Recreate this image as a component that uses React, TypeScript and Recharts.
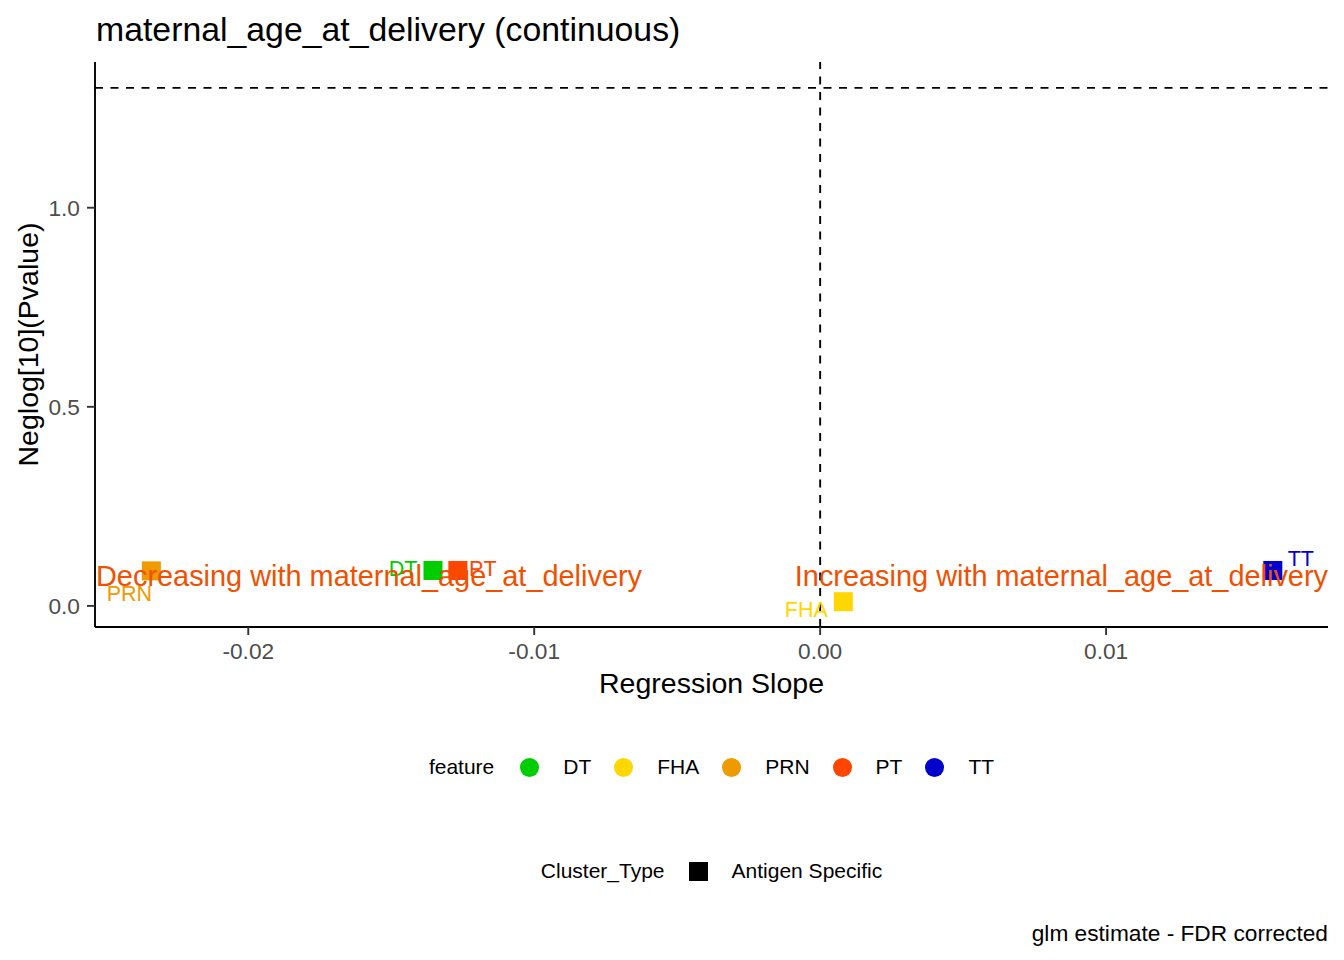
import React from 'react';
import { ScatterChart, Scatter, XAxis, YAxis, ReferenceLine } from 'recharts';

// values
const features = ['DT', 'FHA', 'PRN', 'PT', 'TT'];
const slopes = [-0.01354, 0.00081, -0.02339, -0.01267, 0.01583];
const negLog10P = [0.089, 0.0105, 0.088, 0.089, 0.089];
const featureColors = ['#00CD00', '#FFD700', '#EE9A00', '#FF4500', '#0000CD'];
const clusterTypes = ['Antigen Specific'];
const xTicks = [-0.02, -0.01, 0, 0.01];
const yTicks = [0, 0.5, 1.0];
const xDomain = [-0.02536, 0.01776];
const yDomain = [-0.053, 1.366];
const fdrCutoff = 1.301; // -log10(0.05)
const annotationY = 0.075;
const annotationTexts = ['Decreasing with maternal_age_at_delivery', 'Increasing with maternal_age_at_delivery'];

// repel-style label offsets (px) from each square's centre
const labelNudge: Record<string, [number, number]> = {
  DT: [-30, -2],
  FHA: [-37, 8],
  PRN: [-22, 22],
  PT: [25, -2],
  TT: [28, -12],
};

const FONT = '"Liberation Sans", Arial, sans-serif';
const ANNOT_COLOR = '#F05000';

const chartData = features.map((name, i) => ({
  name,
  x: slopes[i],
  y: negLog10P[i],
  color: featureColors[i],
}));

// annotations pinned to the left / right edge of the x domain (like -Inf / Inf)
const annotationData = [
  { x: xDomain[0], y: annotationY, text: annotationTexts[0], anchor: 'start' },
  { x: xDomain[1], y: annotationY, text: annotationTexts[1], anchor: 'end' },
];

const SquareMark = (props: any) => {
  const { cx, cy, payload } = props;
  if (cx == null || cy == null) return null;
  const [dx, dy] = labelNudge[payload.name] || [0, 0];
  return (
    <g>
      <rect x={cx - 9.5} y={cy - 9.5} width={19} height={19} fill={payload.color} />
      <text
        x={cx + dx}
        y={cy + dy}
        dy="0.36em"
        textAnchor="middle"
        fontSize={21.5}
        fontFamily={FONT}
        fill={payload.color}
      >
        {payload.name}
      </text>
    </g>
  );
};

const AnnotationMark = (props: any) => {
  const { cx, cy, payload } = props;
  if (cx == null || cy == null) return null;
  return (
    <text
      x={payload.anchor === 'start' ? cx + 1 : cx}
      y={cy}
      dy="0.36em"
      textAnchor={payload.anchor}
      fontSize={28.9}
      fontFamily={FONT}
      fill={ANNOT_COLOR}
    >
      {payload.text}
    </text>
  );
};

const legendRow: React.CSSProperties = {
  position: 'absolute',
  left: 95,
  width: 1233,
  height: 30,
  display: 'flex',
  alignItems: 'center',
  justifyContent: 'center',
  fontSize: 21,
  color: '#000',
  whiteSpace: 'nowrap',
};

export default function App() {
  return (
    <div style={{ position: 'relative', width: 1344, height: 960, background: '#fff', fontFamily: FONT }}>
      <style>{'body{margin:0}'}</style>
      <ScatterChart width={1344} height={960} margin={{ top: 62, right: 16, bottom: 283, left: 35 }}>
        <XAxis
          type="number"
          dataKey="x"
          domain={xDomain}
          allowDataOverflow
          ticks={xTicks}
          tickFormatter={(v: number) => v.toFixed(2)}
          tick={{ fill: '#4D4D4D', fontSize: 22.7, fontFamily: FONT }}
          tickSize={8}
          tickMargin={8}
          height={50}
          axisLine={{ stroke: '#000', strokeWidth: 1.9 }}
          tickLine={{ stroke: '#333', strokeWidth: 1.9 }}
        />
        <YAxis
          type="number"
          dataKey="y"
          domain={yDomain}
          allowDataOverflow
          ticks={yTicks}
          tickFormatter={(v: number) => v.toFixed(1)}
          tick={{ fill: '#4D4D4D', fontSize: 22.7, fontFamily: FONT }}
          tickSize={8}
          tickMargin={7}
          width={60}
          axisLine={{ stroke: '#000', strokeWidth: 1.9 }}
          tickLine={{ stroke: '#333', strokeWidth: 1.9 }}
        />
        <ReferenceLine y={fdrCutoff} stroke="#000" strokeWidth={1.9} strokeDasharray="8 7.5" />
        <ReferenceLine x={0} stroke="#000" strokeWidth={1.9} strokeDasharray="8 7.5" />
        <Scatter data={chartData} shape={SquareMark} isAnimationActive={false} />
        <Scatter data={annotationData} shape={AnnotationMark} isAnimationActive={false} />
      </ScatterChart>

      <svg width={1344} height={960} style={{ position: 'absolute', left: 0, top: 0, pointerEvents: 'none' }}>
        <text x={96} y={41} fontSize={33.8} fontFamily={FONT} fill="#000">
          maternal_age_at_delivery (continuous)
        </text>
        <text x={711.5} y={693} fontSize={28.5} fontFamily={FONT} fill="#000" textAnchor="middle">
          Regression Slope
        </text>
        <text
          transform="translate(37.5,344.5) rotate(-90)"
          fontSize={28.5}
          fontFamily={FONT}
          fill="#000"
          textAnchor="middle"
        >
          Neglog[10](Pvalue)
        </text>
        <text x={1328} y={941} fontSize={22.7} fontFamily={FONT} fill="#000" textAnchor="end">
          glm estimate - FDR corrected
        </text>
      </svg>

      <div style={{ ...legendRow, top: 752 }}>
        <span style={{ marginRight: 26 }}>feature</span>
        {features.map((f, i) => (
          <React.Fragment key={f}>
            <span
              style={{
                width: 19,
                height: 19,
                borderRadius: '50%',
                background: featureColors[i],
                marginRight: 24,
                display: 'inline-block',
              }}
            />
            <span style={{ marginRight: i < features.length - 1 ? 23 : 0 }}>{f}</span>
          </React.Fragment>
        ))}
      </div>

      <div style={{ ...legendRow, top: 856 }}>
        <span style={{ marginRight: 24 }}>Cluster_Type</span>
        {clusterTypes.map((c) => (
          <React.Fragment key={c}>
            <span style={{ width: 19, height: 19, background: '#000', marginRight: 24, display: 'inline-block' }} />
            <span>{c}</span>
          </React.Fragment>
        ))}
      </div>
    </div>
  );
}
